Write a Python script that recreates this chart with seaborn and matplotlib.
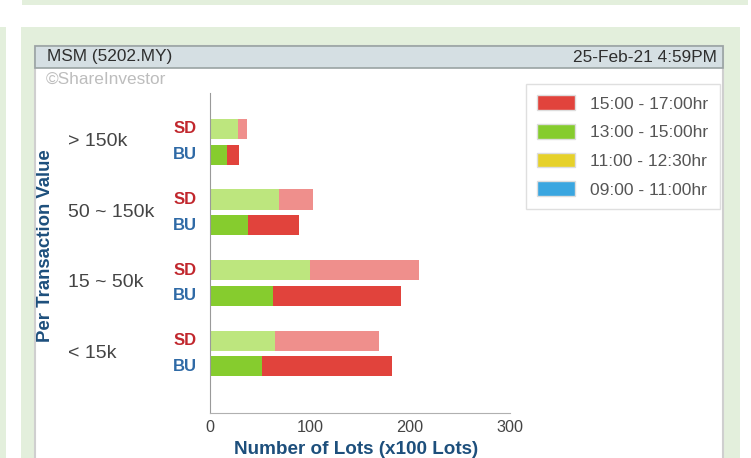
import matplotlib
matplotlib.use("Agg")
import matplotlib.pyplot as plt
import matplotlib.transforms as mtransforms
from matplotlib.patches import Rectangle, Patch
import seaborn as sns
import pandas as pd

# data (x100 lots)
ranges = ["> 150k", "50 ~ 150k", "15 ~ 50k", "< 15k"]
sides = ["SD", "BU"]
periods = ["09:00 - 11:00hr", "11:00 - 12:30hr", "13:00 - 15:00hr", "15:00 - 17:00hr"]
sd_0900 = [0, 0, 0, 0]
sd_1100 = [0, 0, 0, 0]
sd_1300 = [28, 69, 100, 65]
sd_1500 = [9, 34, 109, 104]
bu_0900 = [0, 0, 0, 0]
bu_1100 = [0, 0, 0, 0]
bu_1300 = [17, 38, 63, 52]
bu_1500 = [12, 51, 128, 130]

# (SD shade, BU shade) per period
period_colors = {
    "09:00 - 11:00hr": ("#8fcdf0", "#3aa6e0"),
    "11:00 - 12:30hr": ("#f0e488", "#e6d12a"),
    "13:00 - 15:00hr": ("#bde67e", "#86cc2e"),
    "15:00 - 17:00hr": ("#ef8f8c", "#e1433c"),
}

rows = []
for i, r in enumerate(ranges):
    rows.append({"range": r, "side": "SD", periods[0]: sd_0900[i], periods[1]: sd_1100[i],
                 periods[2]: sd_1300[i], periods[3]: sd_1500[i]})
    rows.append({"range": r, "side": "BU", periods[0]: bu_0900[i], periods[1]: bu_1100[i],
                 periods[2]: bu_1300[i], periods[3]: bu_1500[i]})
df = pd.DataFrame(rows)
# cumulative ends for stacking
cum = df[periods].cumsum(axis=1)

W, H = 751, 458
BAR_W = 0.728


def fx(px):
    return px / W


def fy(py):
    return 1 - py / H


sns.set_style("white")
plt.rcParams["font.family"] = ["Liberation Sans", "DejaVu Sans"]

fig = plt.figure(figsize=(W / 100, H / 100), dpi=100)
fig.patch.set_facecolor("white")


def px_rect(x0, y0, x1, y1, **kw):
    fig.add_artist(Rectangle((fx(x0), fy(y1)), fx(x1) - fx(x0), (y1 - y0) / H,
                             transform=fig.transFigure, zorder=-10, **kw))


# page background pieces
green_bg = "#e3efdc"
px_rect(22, 0, 748, 5, facecolor=green_bg, edgecolor="none")
px_rect(0, 27, 6, 458, facecolor=green_bg, edgecolor="none")
px_rect(21, 27, 740, 458, facecolor=green_bg, edgecolor="none")
px_rect(35, 46, 723, 470, facecolor="white", edgecolor="#cfcfcf", linewidth=1.5)
px_rect(35, 46, 723, 68, facecolor="#d5dfe3", edgecolor="#9aa3a3", linewidth=1.2)

fig.text(fx(47), fy(57), "MSM (5202.MY)", fontsize=12.4, color="#2e2e2e", va="center", ha="left")
fig.text(fx(717), fy(57), "25-Feb-21 4:59PM", fontsize=12.4, color="#2e2e2e", va="center", ha="right")
fig.text(fx(46), fy(79), "\u00a9ShareInvestor", fontsize=12.4, color="#bdbdbd", va="center", ha="left")

ax = fig.add_axes([fx(210), 45 / H, 300 / W, 320 / H])
ax.set_facecolor("none")

# draw from the outermost segment inward so the stack shows
for k in range(len(periods) - 1, -1, -1):
    p = periods[k]
    seg = df[["range", "side"]].copy()
    seg["end"] = cum[p]
    sd_c, bu_c = period_colors[p]
    sns.barplot(data=seg, x="end", y="range", hue="side", hue_order=sides, order=ranges,
                orient="h", width=BAR_W, gap=0.22, dodge=True, palette={"SD": sd_c, "BU": bu_c},
                saturation=1, linewidth=0, errorbar=None, legend=False, ax=ax)

ax.set_xlim(0, 300)
ax.set_ylim(3.843, -0.691)
ax.set_xticks([0, 100, 200, 300])
ax.set_yticks([])
ax.set_xlabel("")
ax.set_ylabel("")
ax.tick_params(axis="x", direction="in", length=5, width=1, color="#bbbbbb",
               labelsize=11.7, labelcolor="#444444", pad=5)
for s in ["top", "right"]:
    ax.spines[s].set_visible(False)
ax.spines["left"].set_color("#9a9a9a")
ax.spines["bottom"].set_color("#b0b0b0")

# category and side labels
blend = mtransforms.blended_transform_factory(fig.transFigure, ax.transData)
for i, r in enumerate(ranges):
    ax.text(fx(68), i, r, transform=blend, fontsize=14, color="#444444", ha="left", va="center")
    ax.text(fx(197), i - BAR_W / 4, "SD", transform=blend, fontsize=12, fontweight="bold",
            color="#c1272d", ha="right", va="center")
    ax.text(fx(197), i + BAR_W / 4, "BU", transform=blend, fontsize=12, fontweight="bold",
            color="#2f6aa6", ha="right", va="center")

label_blue = "#1d4f7c"
fig.text(fx(45.5), fy(245.5), "Per Transaction Value", rotation=90, fontsize=13.4,
         fontweight="bold", color=label_blue, ha="center", va="center")
fig.text(fx(356), fy(449), "Number of Lots (x100 Lots)", fontsize=13.6,
         fontweight="bold", color=label_blue, ha="center", va="center")

handles = [Patch(facecolor=period_colors[p][1], edgecolor="#dddddd") for p in periods[::-1]]
leg = fig.legend(handles, periods[::-1], loc="upper left", bbox_to_anchor=(fx(526), fy(84)),
                 fontsize=12.5, frameon=True, fancybox=False, edgecolor="#d8d8d8",
                 handlelength=2.2, handleheight=0.95, handletextpad=0.85,
                 labelspacing=0.7, borderpad=0.65, borderaxespad=0)
leg.get_frame().set_linewidth(1)
for t in leg.get_texts():
    t.set_color("#555555")

fig.savefig("out.png", dpi=100)
